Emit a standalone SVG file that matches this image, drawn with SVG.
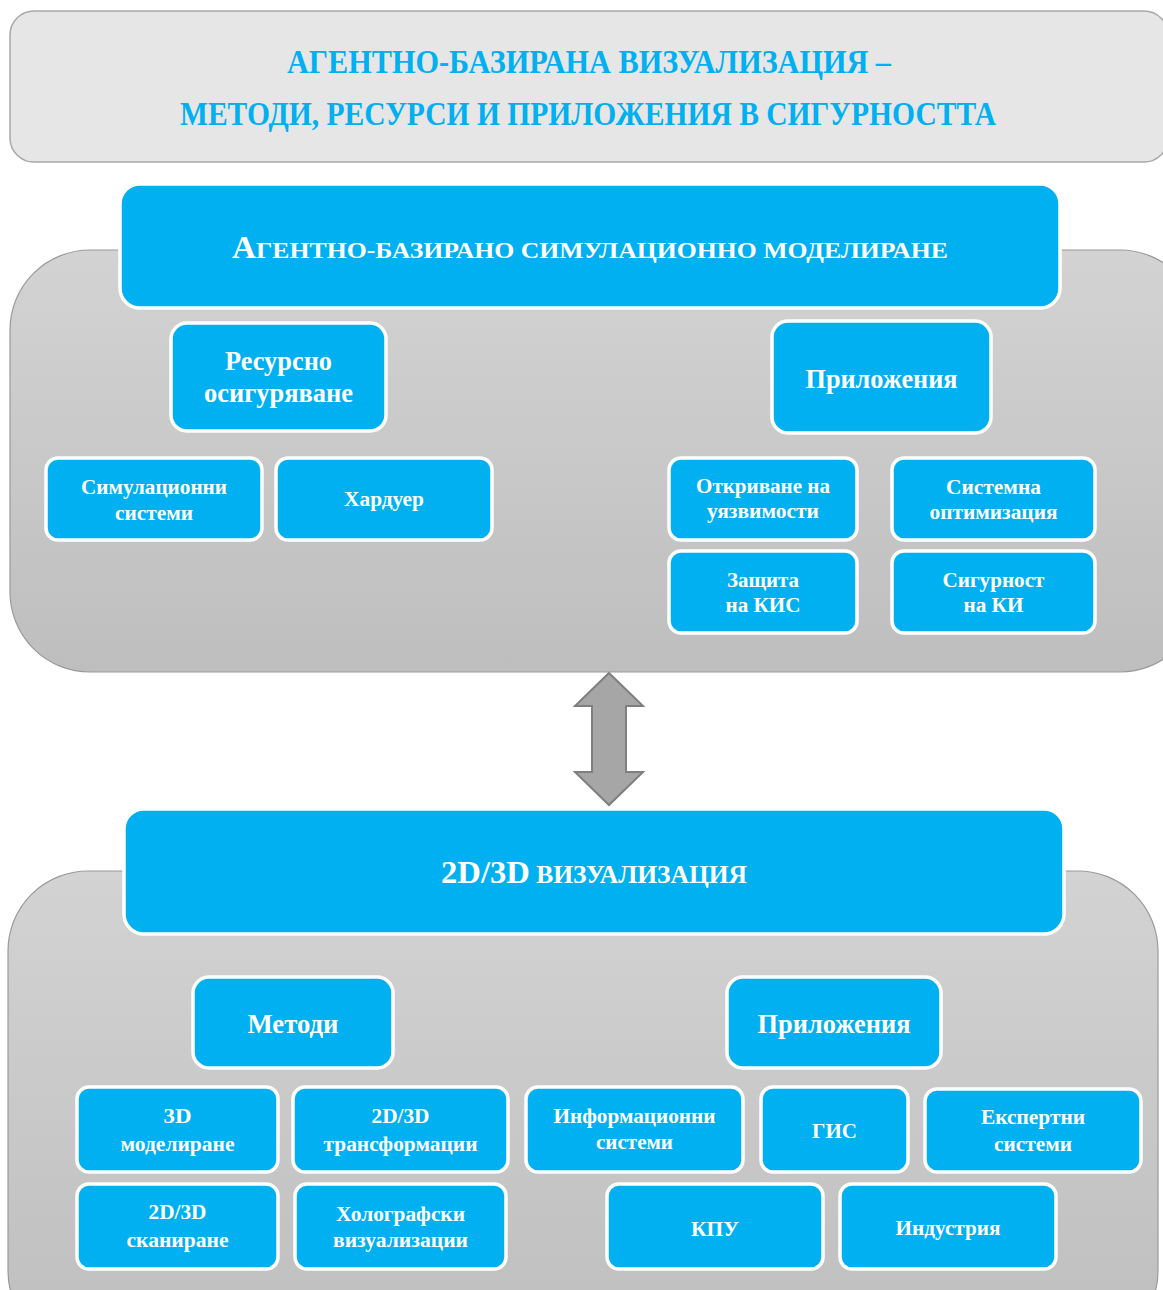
<svg xmlns="http://www.w3.org/2000/svg" width="1163" height="1290" viewBox="0 0 1163 1290">
<defs>
<linearGradient id="panelGrad" x1="0" y1="0" x2="0" y2="1">
<stop offset="0" stop-color="#d3d3d3"/>
<stop offset="1" stop-color="#bebebe"/>
</linearGradient>
<style>
.panel{fill:url(#panelGrad);stroke:#9a9a9a;stroke-width:1.2}
.box{fill:#00b0f0;stroke:#ffffff;stroke-width:3.5}
.t{font-family:"Liberation Serif","Times New Roman",serif;font-weight:bold;fill:#ffffff;text-anchor:middle}
.big{font-size:27px}
.sm{font-size:20px}
.title{font-family:"Liberation Serif","Times New Roman",serif;font-weight:bold;fill:#00b0f0;text-anchor:middle;font-size:34px}
</style>
</defs>
<rect width="1163" height="1290" fill="#ffffff"/>

<g id="title">
<rect x="10" y="11" width="1158" height="151" rx="24" fill="#e6e6e6" stroke="#a8a8a8" stroke-width="1.5"/>
<text class="title" x="589" y="73" textLength="604" lengthAdjust="spacingAndGlyphs">АГЕНТНО-БАЗИРАНА ВИЗУАЛИЗАЦИЯ –</text>
<text class="title" x="588" y="125" textLength="816" lengthAdjust="spacingAndGlyphs">МЕТОДИ, РЕСУРСИ И ПРИЛОЖЕНИЯ В СИГУРНОСТТА</text>
</g>

<g id="panel-top">
<rect class="panel" x="10" y="250" width="1190" height="422" rx="80"/>
</g>
<g id="panel-bottom">
<rect class="panel" x="8" y="871" width="1150" height="480" rx="80"/>
</g>

<g id="connectors">
<path d="M609,673 L643,706 L626,706 L626,772 L643,772 L609,805 L575,772 L592,772 L592,706 L575,706 Z" fill="#a6a6a6" stroke="#7f7f7f" stroke-width="2" stroke-linejoin="miter"/>
</g>

<g id="abs-header">
<rect class="box" x="120" y="184" width="940" height="124" rx="20"/>
<text class="t" x="590" y="258" textLength="716" lengthAdjust="spacingAndGlyphs"><tspan font-size="31">А</tspan><tspan font-size="24">ГЕНТНО-БАЗИРАНО СИМУЛАЦИОННО МОДЕЛИРАНЕ</tspan></text>
</g>

<g id="resursno">
<rect class="box" x="171" y="323" width="215" height="108" rx="16"/>
<text class="t big" x="278.5" y="370" textLength="107" lengthAdjust="spacingAndGlyphs">Ресурсно</text>
<text class="t big" x="278.5" y="402" textLength="149" lengthAdjust="spacingAndGlyphs">осигуряване</text>
</g>

<g id="prilozhenia-top">
<rect class="box" x="772" y="321" width="219" height="112" rx="16"/>
<text class="t big" x="881.5" y="388" textLength="152" lengthAdjust="spacingAndGlyphs">Приложения</text>
</g>

<g id="simulacionni">
<rect class="box" x="46" y="458" width="216" height="82" rx="12"/>
<text class="t sm" x="154" y="494" textLength="146" lengthAdjust="spacingAndGlyphs">Симулационни</text>
<text class="t sm" x="154" y="520" textLength="78" lengthAdjust="spacingAndGlyphs">системи</text>
</g>

<g id="harduer">
<rect class="box" x="276" y="458" width="216" height="82" rx="12"/>
<text class="t sm" x="384" y="506" textLength="80" lengthAdjust="spacingAndGlyphs">Хардуер</text>
</g>

<g id="otkrivane">
<rect class="box" x="669" y="458" width="188" height="82" rx="12"/>
<text class="t sm" x="763" y="493" textLength="134" lengthAdjust="spacingAndGlyphs">Откриване на</text>
<text class="t sm" x="763" y="518" textLength="112" lengthAdjust="spacingAndGlyphs">уязвимости</text>
</g>

<g id="sistemna">
<rect class="box" x="892" y="458" width="203" height="82" rx="12"/>
<text class="t sm" x="993.5" y="494" textLength="95" lengthAdjust="spacingAndGlyphs">Системна</text>
<text class="t sm" x="993.5" y="519" textLength="128" lengthAdjust="spacingAndGlyphs">оптимизация</text>
</g>

<g id="zashtita">
<rect class="box" x="669" y="551" width="188" height="82" rx="12"/>
<text class="t sm" x="763" y="587" textLength="72" lengthAdjust="spacingAndGlyphs">Защита</text>
<text class="t sm" x="763" y="612" textLength="75" lengthAdjust="spacingAndGlyphs">на КИС</text>
</g>

<g id="sigurnost">
<rect class="box" x="892" y="551" width="203" height="82" rx="12"/>
<text class="t sm" x="993.5" y="587" textLength="102" lengthAdjust="spacingAndGlyphs">Сигурност</text>
<text class="t sm" x="993.5" y="612" textLength="60" lengthAdjust="spacingAndGlyphs">на КИ</text>
</g>

<g id="vis-header">
<rect class="box" x="124" y="809" width="940" height="125" rx="20"/>
<text class="t" x="594" y="883" textLength="306" lengthAdjust="spacingAndGlyphs"><tspan font-size="32">2D/3D</tspan><tspan font-size="25"> ВИЗУАЛИЗАЦИЯ</tspan></text>
</g>

<g id="metodi">
<rect class="box" x="193" y="977" width="200" height="91" rx="16"/>
<text class="t big" x="293" y="1033" textLength="91" lengthAdjust="spacingAndGlyphs">Методи</text>
</g>

<g id="prilozhenia-bottom">
<rect class="box" x="727" y="977" width="214" height="91" rx="16"/>
<text class="t big" x="834" y="1033" textLength="153" lengthAdjust="spacingAndGlyphs">Приложения</text>
</g>

<g id="modelirane3d">
<rect class="box" x="77" y="1087" width="201" height="85" rx="12"/>
<text class="t sm" x="177.5" y="1123" textLength="28" lengthAdjust="spacingAndGlyphs">3D</text>
<text class="t sm" x="177.5" y="1151" textLength="114" lengthAdjust="spacingAndGlyphs">моделиране</text>
</g>

<g id="transformacii">
<rect class="box" x="293" y="1087" width="215" height="85" rx="12"/>
<text class="t sm" x="400.5" y="1123" textLength="58" lengthAdjust="spacingAndGlyphs">2D/3D</text>
<text class="t sm" x="400.5" y="1151" textLength="154" lengthAdjust="spacingAndGlyphs">трансформации</text>
</g>

<g id="informacionni">
<rect class="box" x="526" y="1087" width="217" height="85" rx="12"/>
<text class="t sm" x="634.5" y="1123" textLength="162" lengthAdjust="spacingAndGlyphs">Информационни</text>
<text class="t sm" x="634.5" y="1149" textLength="77" lengthAdjust="spacingAndGlyphs">системи</text>
</g>

<g id="gis">
<rect class="box" x="761" y="1087" width="147" height="85" rx="12"/>
<text class="t sm" x="834.5" y="1138" textLength="45" lengthAdjust="spacingAndGlyphs">ГИС</text>
</g>

<g id="ekspertni">
<rect class="box" x="925" y="1089" width="216" height="83" rx="12"/>
<text class="t sm" x="1033" y="1124" textLength="104" lengthAdjust="spacingAndGlyphs">Експертни</text>
<text class="t sm" x="1033" y="1151" textLength="78" lengthAdjust="spacingAndGlyphs">системи</text>
</g>

<g id="skanirane">
<rect class="box" x="77" y="1184" width="201" height="85" rx="12"/>
<text class="t sm" x="177.5" y="1219" textLength="58" lengthAdjust="spacingAndGlyphs">2D/3D</text>
<text class="t sm" x="177.5" y="1247" textLength="102" lengthAdjust="spacingAndGlyphs">сканиране</text>
</g>

<g id="holografski">
<rect class="box" x="295" y="1184" width="211" height="85" rx="12"/>
<text class="t sm" x="400.5" y="1221" textLength="129" lengthAdjust="spacingAndGlyphs">Холографски</text>
<text class="t sm" x="400.5" y="1247" textLength="135" lengthAdjust="spacingAndGlyphs">визуализации</text>
</g>

<g id="kpu">
<rect class="box" x="607" y="1184" width="216" height="85" rx="12"/>
<text class="t sm" x="715" y="1236" textLength="48" lengthAdjust="spacingAndGlyphs">КПУ</text>
</g>

<g id="industria">
<rect class="box" x="840" y="1184" width="216" height="85" rx="12"/>
<text class="t sm" x="948" y="1235" textLength="105" lengthAdjust="spacingAndGlyphs">Индустрия</text>
</g>
</svg>
